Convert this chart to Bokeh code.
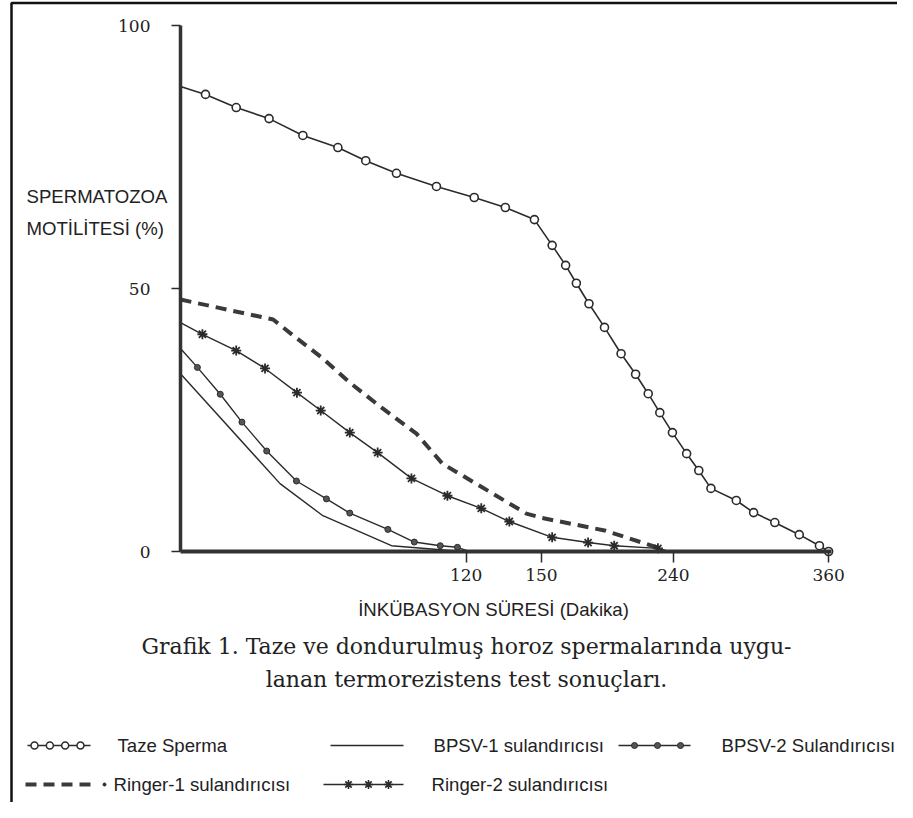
import numpy as np
from bokeh.plotting import figure
from bokeh.models import Range1d, FixedTicker
from bokeh.embed import file_html
from bokeh.resources import INLINE
from bokeh.core.properties import value

# ---------------- data ----------------
# The original x-axis is drawn non-linearly: anchors minutes -> drawn position
TICK_MINUTES = [0, 120, 150, 240, 360]
TICK_DRAWN = [0, 158.0, 199.6, 272.6, 358.4]
X_TICK_LABELS = ["120", "150", "240", "360"]
Y_TICKS = [0, 50, 100]

taze_t = [0, 10.5, 23.4, 37.2, 51.4, 66.1, 77.8, 90.7, 107.5, 123.2, 135.6, 147.2,
          157.3, 166.5, 173.8, 182.4, 193.0, 204.3, 214.2, 222.8, 230.7, 239.3,
          250.2, 259.6, 269.0, 288.6, 302.0, 318.4, 337.3, 352.9, 360]
taze_v = [88.4, 86.9, 84.4, 82.3, 79.1, 76.8, 74.3, 71.9, 69.4, 67.3, 65.4, 63.1,
          58.2, 54.4, 51.0, 47.1, 42.6, 37.6, 33.7, 30.0, 26.4, 22.6,
          18.6, 15.4, 12.0, 9.7, 7.4, 5.5, 3.2, 1.1, 0]

bpsv1_t = [0, 41.8, 59.8, 88.6, 118.3]
bpsv1_v = [33.8, 12.9, 6.8, 1.1, 0]

bpsv2_t = [0, 7.1, 16.7, 25.8, 36.2, 48.7, 61.3, 71.1, 87.1, 98.2, 109.1, 116.3, 121.2]
bpsv2_v = [38.6, 35.0, 29.9, 24.6, 19.1, 13.4, 10.0, 7.3, 4.2, 1.8, 1.1, 0.8, 0]

ringer1_t = [0, 38.9, 47.2, 59.8, 71.1, 84.9, 99.1, 110.0, 144.0, 150.0, 193.0, 232.0]
ringer1_v = [47.9, 44.1, 41.1, 36.7, 32.1, 27.2, 22.4, 16.7, 7.2, 6.4, 4.0, 0.5]

ringer2_t = [0, 9.2, 23.4, 35.5, 48.9, 58.9, 71.1, 82.8, 97.0, 112.1, 126.0, 137.2,
             157.3, 181.8, 199.6, 229.4, 234.7]
ringer2_v = [43.5, 41.3, 38.2, 34.8, 30.2, 26.8, 22.6, 18.8, 13.9, 10.6, 8.2, 5.7,
             2.7, 1.7, 1.1, 0.6, 0.2]

LEGEND_NAMES = ["Taze Sperma", "BPSV-1 sulandırıcısı", "BPSV-2 Sulandırıcısı",
                "Ringer-1 sulandırıcısı", "Ringer-2 sulandırıcısı"]
Y_TITLE = ["SPERMATOZOA", "MOTİLİTESİ (%)"]
X_TITLE = "İNKÜBASYON SÜRESİ (Dakika)"
CAPTION = ["Grafik 1. Taze ve dondurulmuş horoz spermalarında uygu-",
           "lanan termorezistens test sonuçları."]


def drawn(t):
    return np.interp(np.asarray(t, dtype=float), TICK_MINUTES, TICK_DRAWN)


# ---------------- layout ----------------
W, H = 897, 802
FX0, FX1, FY0, FY1 = 180, 831, 25, 551    # axis box edges in canvas px
KX = 360.0 / (FX1 - FX0)
KY = 100.0 / (FY1 - FY0)
INK = "#2b2b2b"
SANS = "Liberation Sans"
SERIF = "DejaVu Serif"
SANS_SIZE = "18.6px"


def dx(px):
    return (px - FX0) * KX


def dy(py):
    return (FY1 - py) * KY


p = figure(width=W, height=H, output_backend="svg", toolbar_location=None,
           x_range=Range1d(dx(0), dx(W)),
           y_range=Range1d(dy(H), dy(0)),
           min_border=0, min_border_left=0, min_border_right=0,
           min_border_top=0, min_border_bottom=0)
p.xgrid.visible = False
p.ygrid.visible = False
p.outline_line_color = None
p.background_fill_color = "white"
p.border_fill_color = "white"

# axes (pinned at the origin, limited to the drawn extent)
xa = p.xaxis[0]
xa.fixed_location = 0
xa.bounds = (0, 360)
xa.ticker = FixedTicker(ticks=TICK_DRAWN[1:])
xa.major_label_overrides = {tk: lb for tk, lb in zip(TICK_DRAWN[1:], X_TICK_LABELS)}
xa.minor_tick_line_color = None
xa.axis_line_width = 4
xa.axis_line_color = "#333333"
xa.major_tick_line_color = INK
xa.major_tick_line_width = 1.5
xa.major_tick_in = 0
xa.major_tick_out = 11
xa.major_label_standoff = 6
xa.major_label_text_font = SERIF
xa.major_label_text_font_size = "17px"
xa.major_label_text_color = "#222222"

ya = p.yaxis[0]
ya.fixed_location = 0
ya.bounds = (0, 100)
ya.ticker = FixedTicker(ticks=Y_TICKS)
ya.minor_tick_line_color = None
ya.axis_line_width = 3.5
ya.axis_line_color = "#333333"
ya.major_tick_line_color = INK
ya.major_tick_line_width = 1.5
ya.major_tick_in = 0
ya.major_tick_out = 9
ya.major_label_standoff = 21
ya.major_label_text_font = SERIF
ya.major_label_text_font_size = "17px"
ya.major_label_text_color = "#222222"

# series
p.line(drawn(taze_t), taze_v, line_color=INK, line_width=1.6)
p.scatter(drawn(taze_t[1:]), taze_v[1:], marker="circle", size=8,
          fill_color="white", line_color=INK, line_width=1.6)

p.line(drawn(bpsv1_t), bpsv1_v, line_color=INK, line_width=1.4)

p.line(drawn(bpsv2_t), bpsv2_v, line_color=INK, line_width=1.4)
p.scatter(drawn(bpsv2_t[1:-1]), bpsv2_v[1:-1], marker="circle", size=6,
          fill_color="#555555", line_color=INK, line_width=1)

p.line(drawn(ringer1_t), ringer1_v, line_color="#3a3a3a", line_width=4,
       line_dash="11 7")

p.line(drawn(ringer2_t), ringer2_v, line_color=INK, line_width=1.4)
p.scatter(drawn(ringer2_t[1:-1]), ringer2_v[1:-1], marker="asterisk", size=10,
          line_color=INK, line_width=1.8)


# texts
def label(px, py, text, font=SERIF if False else SANS, size=SANS_SIZE, align="left"):
    p.text([dx(px)], [dy(py)], text=[text], text_font=value(font),
           text_font_size=size, text_align=align, text_baseline="middle",
           text_color="#222222")


label(26, 196, Y_TITLE[0])
label(26, 228, Y_TITLE[1])
label(493, 609, X_TITLE, align="center")
label(466, 646, CAPTION[0], font=SERIF, size="22px", align="center")
label(466, 679, CAPTION[1], font=SERIF, size="22px", align="center")

# legend (drawn manually, two rows as in the original)
ROW1, ROW2 = 745, 784


def sample_line(x0, x1, py, **kw):
    p.line([dx(x0), dx(x1)], [dy(py), dy(py)], **kw)


def sample_markers(xs, py, **kw):
    p.scatter([dx(x) for x in xs], [dy(py)] * len(xs), **kw)


sample_line(27, 90, ROW1, line_color=INK, line_width=1.6)
sample_markers(np.linspace(34, 80, 4), ROW1, marker="circle", size=7,
               fill_color="white", line_color=INK, line_width=1.5)
label(117, ROW1, LEGEND_NAMES[0])

sample_line(330, 403, ROW1, line_color=INK, line_width=1.4)
label(433, ROW1, LEGEND_NAMES[1])

sample_line(618, 690, ROW1, line_color=INK, line_width=1.4)
sample_markers(np.linspace(634, 680, 3), ROW1, marker="circle", size=6,
               fill_color="#555555", line_color=INK, line_width=1)
label(721, ROW1, LEGEND_NAMES[2])

sample_line(25, 97, ROW2, line_color="#3a3a3a", line_width=4, line_dash="11 7")
sample_markers([104], ROW2, marker="circle", size=3, fill_color=INK, line_color=INK)
label(113, ROW2, LEGEND_NAMES[3])

sample_line(323, 403, ROW2, line_color=INK, line_width=1.4)
sample_markers(np.linspace(348, 388, 3), ROW2, marker="asterisk", size=9,
               line_color=INK, line_width=1.6)
label(431, ROW2, LEGEND_NAMES[4])

# outer frame of the printed figure (left and top rules)
p.line([dx(11), dx(11), dx(W)], [dy(H), dy(2.5), dy(2.5)],
       line_color="#111111", line_width=2.5)

open("out.html", "w").write(file_html(p, INLINE))
